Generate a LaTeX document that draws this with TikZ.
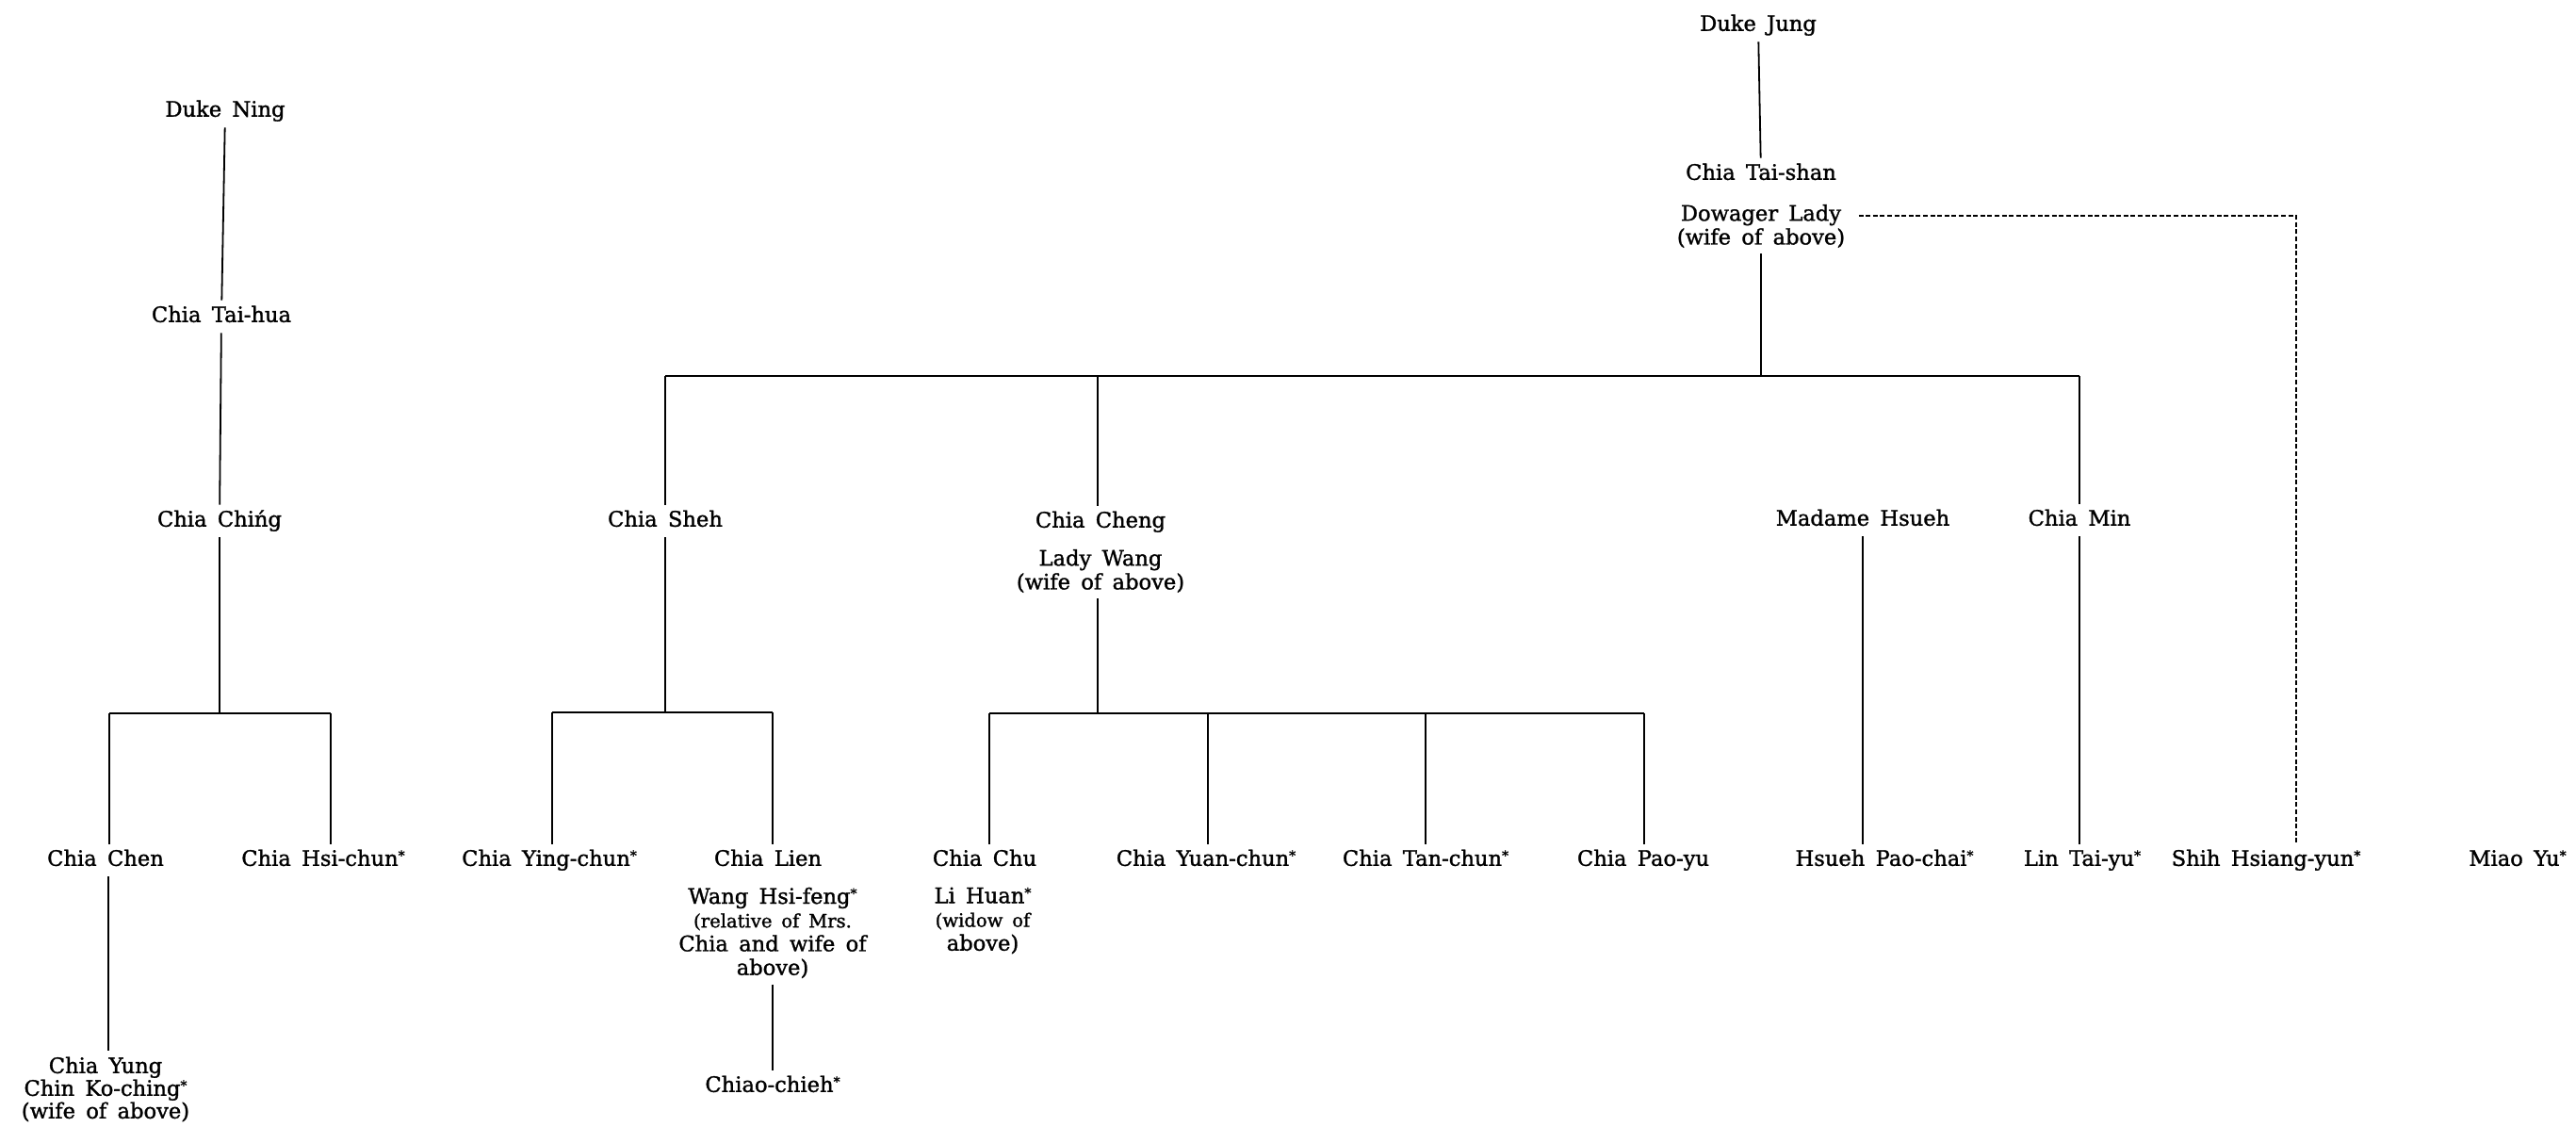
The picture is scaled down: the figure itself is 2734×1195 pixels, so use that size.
\documentclass[tikz,border=0pt]{standalone}
\usepackage{fontspec}
\setmainfont{DejaVu Serif}
\newfontfamily\heavy{DejaVu Serif}[FakeBold=1.3]
\newcommand{\sta}{\raisebox{3pt}{\fontsize{7}{7}\selectfont *}}
\newcommand{\wsp}{\spaceskip=0.5em plus 0.1em\relax}
\newcommand{\nfont}{\heavy\fontsize{11.3}{12.6}\selectfont\wsp}
\newcommand{\yfont}{\heavy\fontsize{11.3}{12}\selectfont\wsp}
\newcommand{\sfnt}{\fontsize{9.8}{12.6}\selectfont\wsp}
\begin{document}
\begin{tikzpicture}[x=0.5pt,y=-0.5pt,
  base/.style={font=\nfont, inner sep=3pt, align=center},
  nm/.style={base, text height=8.4pt, text depth=2.6pt},
  ml/.style={base},
  ln/.style={line width=0.9pt},
  bar/.style={line width=1.3pt},
  dsh/.style={line width=0.9pt, dash pattern=on 2.5pt off 1.3pt}]
\useasboundingbox (0,0) rectangle (2734,1195);

% ---- Ning branch ----
\node[nm] (dn)   at (239,118) {Duke Ning};
\node[nm] (ta)   at (235,336) {Chia Tai-hua};
\node[nm] (cc)   at (233,553) {Chia Chińg};
\node[nm] (chen) at (112,913) {Chia Chen};
\node[nm] (hsi)  at (343,913) {Chia Hsi-chun\sta};
\node[ml, font=\yfont] (yung) at (112,1156) {Chia Yung\\Chin Ko-ching\sta\\(wife of above)};

\coordinate (bL) at (0,757);
\draw[ln] (dn) -- (ta);
\draw[ln] (ta) -- (cc);
\draw[ln] (cc.south) -- (cc.south |- bL);
\draw[bar] ([xshift=2pt]chen.north |- bL) -- ([xshift=4pt]hsi.north |- bL);
\draw[ln] ([xshift=2pt]chen.north |- bL) -- ([xshift=2pt]chen.north);
\draw[ln] ([xshift=4pt]hsi.north |- bL) -- ([xshift=4pt]hsi.north);
\draw[ln] ([xshift=1.5pt]chen.south) -- ([xshift=1.5pt]chen.south |- yung.north);

% ---- Jung branch ----
\node[nm] (dj)    at (1866,27) {Duke Jung};
\node[nm] (ts)    at (1869,185) {Chia Tai-shan};
\node[ml] (dow)   at (1869,240) {Dowager Lady\\(wife of above)};
\node[nm] (sheh)  at (706,553) {Chia Sheh};
\node[nm] (cheng) at (1168,554) {Chia Cheng};
\node[ml] (lw)    at (1168,606) {Lady Wang\\(wife of above)};
\node[nm] (mh)    at (1977,552) {Madame Hsueh};
\node[nm] (min)   at (2207,552) {Chia Min};

\node[nm] (ying)  at (583,913) {Chia Ying-chun\sta};
\node[nm] (lien)  at (815,913) {Chia Lien};
\node[ml] (whf)   at (820,990) {Wang Hsi-feng\sta\\{\sfnt (relative of Mrs.}\\Chia and wife of\\above)};
\node[nm] (cj)    at (820,1153) {Chiao-chieh\sta};
\node[nm] (chu)   at (1045,913) {Chia Chu};
\node[ml] (lh)    at (1043,977) {Li Huan\sta\\{\sfnt (widow of}\\above)};
\node[nm] (yuan)  at (1280,913) {Chia Yuan-chun\sta};
\node[nm] (tan)   at (1513,913) {Chia Tan-chun\sta};
\node[nm] (pao)   at (1744,913) {Chia Pao-yu};
\node[nm] (hpc)   at (2000,913) {Hsueh Pao-chai\sta};
\node[nm] (lin)   at (2210,913) {Lin Tai-yu\sta};
\node[nm] (shih)  at (2405,913) {Shih Hsiang-yun\sta};
\node[nm] (miao)  at (2672,913) {Miao Yu\sta};

\coordinate (bT) at (0,399);
\coordinate (bS) at (0,756);
\coordinate (bC) at (0,757);
\coordinate (dx) at (2437,0);

\draw[ln] (dj) -- (ts);
\draw[ln] (dow.south) -- (dow.south |- bT);
\draw[bar] (sheh.north |- bT) -- (min.north |- bT);
\draw[ln] (sheh.north |- bT) -- (sheh.north);
\draw[ln] ([xshift=-1.5pt]cheng.north |- bT) -- ([xshift=-1.5pt]cheng.north);
\draw[ln] (min.north |- bT) -- (min.north);

\draw[ln] (sheh.south) -- (sheh.south |- bS);
\draw[bar] ([xshift=1.5pt]ying.north |- bS) -- ([xshift=2.5pt]lien.north |- bS);
\draw[ln] ([xshift=1.5pt]ying.north |- bS) -- ([xshift=1.5pt]ying.north);
\draw[ln] ([xshift=2.5pt]lien.north |- bS) -- ([xshift=2.5pt]lien.north);
\draw[ln] (whf.south) -- (cj.north);

\draw[ln] ([xshift=-1.5pt]lw.south) -- ([xshift=-1.5pt]lw.south |- bC);
\draw[bar] ([xshift=2.5pt]chu.north |- bC) -- ([xshift=0.5pt]pao.north |- bC);
\draw[ln] ([xshift=2.5pt]chu.north |- bC) -- ([xshift=2.5pt]chu.north);
\draw[ln] ([xshift=1pt]yuan.north |- bC) -- ([xshift=1pt]yuan.north);
\draw[ln] (tan.north |- bC) -- (tan.north);
\draw[ln] ([xshift=0.5pt]pao.north |- bC) -- ([xshift=0.5pt]pao.north);

\draw[ln] (mh.south) -- (mh.south |- hpc.north);
\draw[ln] (min.south) -- (min.south |- lin.north);

\draw[dsh] ([xshift=4pt,yshift=5.5pt]dow.east) -- ([yshift=5.5pt]dow.east -| dx) -- (dx |- shih.north);
\end{tikzpicture}
\end{document}
